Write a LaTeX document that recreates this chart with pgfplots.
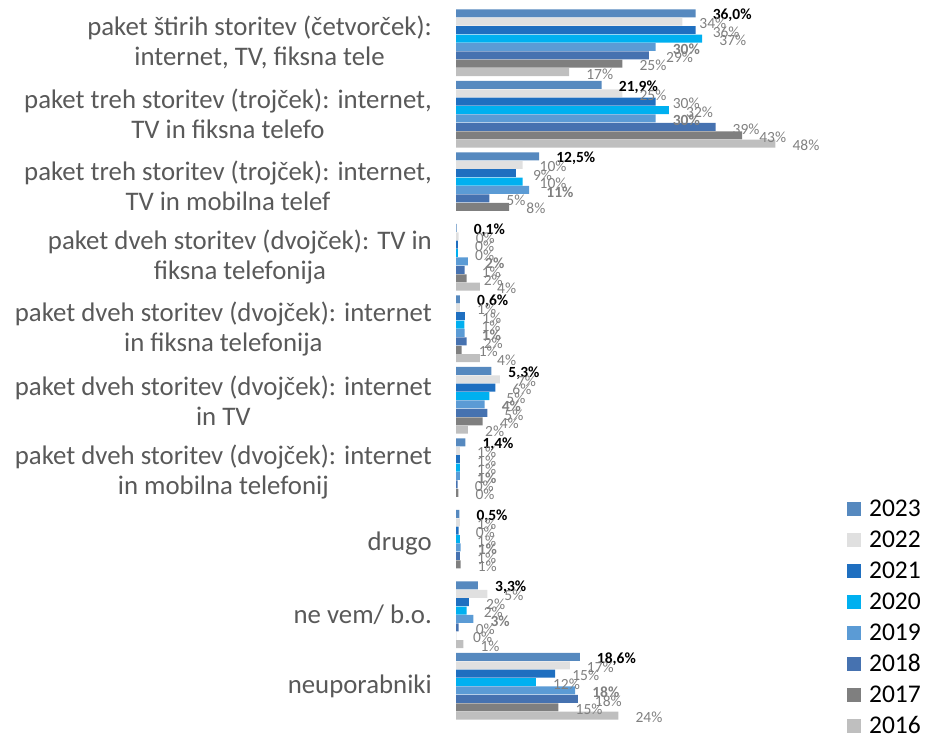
\documentclass[border=0pt]{standalone}
\usepackage{pgfplots}
\pgfplotsset{compat=1.18}
\usepackage{pgfplotstable}
\usepackage{fontspec}
\setmainfont{Carlito}
\definecolor{c2023}{HTML}{5689BF}
\definecolor{c2022}{HTML}{E0E0E0}
\definecolor{c2021}{HTML}{1F6FC0}
\definecolor{c2020}{HTML}{00B0F0}
\definecolor{c2019}{HTML}{5B9BD5}
\definecolor{c2018}{HTML}{4672B0}
\definecolor{c2017}{HTML}{7F7F7F}
\definecolor{c2016}{HTML}{BFBFBF}
\definecolor{labgray}{HTML}{808080}
\definecolor{catgray}{HTML}{595959}
\pgfplotstableread{
cat y2023 y2022 y2021 y2020 y2019 y2018 y2017 y2016
0 36.0 34 36 37 30 29 25 17
1 21.9 25 30 32 30 39 43 48
2 12.5 10 9 10 11 5 8 nan
3 0.1 0.4 0.3 0.3 1.8 1.3 1.6 3.6
4 0.6 0.6 1.35 1.25 1.3 1.6 0.85 3.6
5 5.3 6.6 5.9 5.0 4.3 4.7 4.0 1.8
6 1.4 0.6 0.6 0.6 0.6 0.25 0.35 nan
7 0.5 0.6 0.4 0.6 0.7 0.6 0.7 nan
8 3.3 4.7 1.95 1.6 2.6 0.4 0 1.1
9 18.6 17.1 14.9 12 17.9 18.3 15.4 24.4
}\data
\begin{document}
\begin{tikzpicture}
\useasboundingbox (0,0) rectangle (926bp,737bp);
\begin{axis}[
  at={(456bp,15bp)}, anchor=south west,
  scale only axis, width=366bp, height=715bp,
  xmin=0, xmax=55, ymin=-0.5, ymax=9.5,
  y dir=reverse,
  xbar, bar width=8bp,
  axis x line=none, xtick=\empty,
  axis y line*=left, y axis line style={draw=none},
  major tick length=0pt,
  ytick={0,...,9},
  yticklabels={
    {paket štirih storitev (četvorček):\\internet, TV, fiksna tele},
    {paket treh storitev (trojček): internet,\\TV in fiksna telefo},
    {paket treh storitev (trojček): internet,\\TV in mobilna telef},
    {paket dveh storitev (dvojček): TV in\\fiksna telefonija},
    {paket dveh storitev (dvojček): internet\\in fiksna telefonija},
    {paket dveh storitev (dvojček): internet\\in TV},
    {paket dveh storitev (dvojček): internet\\in mobilna telefonij},
    {drugo},
    {ne vem/ b.o.},
    {neuporabniki}},
  yticklabel style={align=center, anchor=east, inner sep=0pt, xshift=-24bp,
    text=catgray, font=\fontsize{26.8bp}{30bp}\selectfont},
  /pgf/number format/assume math mode=true,
  nodes near coords={\pgfmathprintnumber[fixed,precision=0]{\pgfplotspointmeta}\%},
  every node near coord/.append style={anchor=west, inner sep=0pt, xshift=17bp, yshift=-2bp,
    font=\fontsize{15.5bp}{16bp}\selectfont, text=labgray},
  legend image code/.code={\fill[#1] (0bp,-7bp) rectangle (14bp,7bp);},
  legend style={at={(1.068,0.3096)}, anchor=north west, draw=none, fill=none,
    inner sep=0pt, row sep=15bp, column sep=8bp,
    nodes={inner sep=0pt, font=\fontsize{25.5bp}{25bp}\selectfont, text height=16bp, text depth=0bp}},
  legend cell align=left,
]
\addplot[fill=c2023, draw=none, bar shift=29.4bp,
  nodes near coords={\pgfmathprintnumber[fixed,fixed zerofill,precision=1,use comma]{\pgfplotspointmeta}\%},
  every node near coord/.append style={text=black, font=\fontsize{15.5bp}{16bp}\selectfont\bfseries}]
  table[x=y2023, y=cat] {\data};
\addplot[fill=c2022, draw=none, bar shift=21bp] table[x=y2022, y=cat] {\data};
\addplot[fill=c2021, draw=none, bar shift=12.6bp] table[x=y2021, y=cat] {\data};
\addplot[fill=c2020, draw=none, bar shift=4.2bp] table[x=y2020, y=cat] {\data};
\addplot[fill=c2019, draw=none, bar shift=-4.2bp,
  every node near coord/.append style={font=\fontsize{15.5bp}{16bp}\selectfont\bfseries}]
  table[x=y2019, y=cat] {\data};
\addplot[fill=c2018, draw=none, bar shift=-12.6bp] table[x=y2018, y=cat] {\data};
\addplot[fill=c2017, draw=none, bar shift=-21bp] table[x=y2017, y=cat] {\data};
\addplot[fill=c2016, draw=none, bar shift=-29.4bp] table[x=y2016, y=cat] {\data};
\legend{2023,2022,2021,2020,2019,2018,2017,2016}
\end{axis}
\end{tikzpicture}
\end{document}
